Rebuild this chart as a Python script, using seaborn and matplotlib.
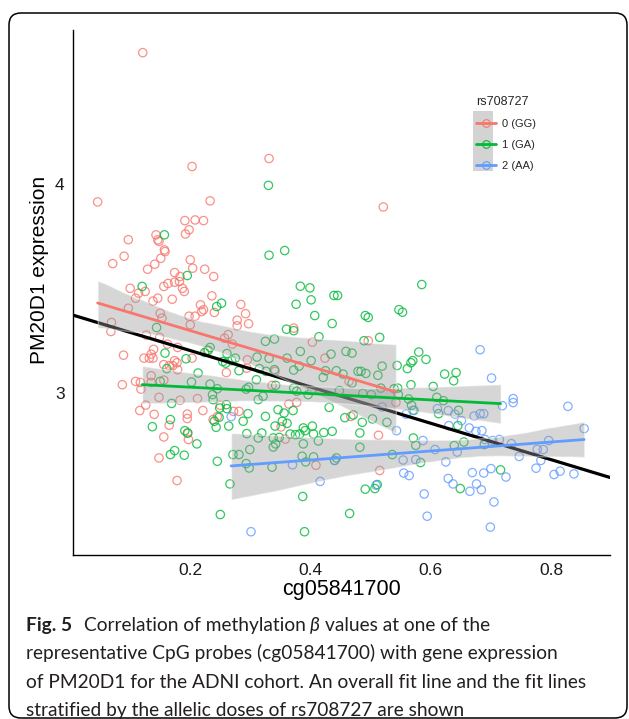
import matplotlib.pyplot as plt
from matplotlib import font_manager
from matplotlib.lines import Line2D
from matplotlib.patches import Rectangle, FancyBboxPatch
import pandas as pd
import seaborn as sns


# ---- data (cg05841700 beta, PM20D1 expression) ----

gg_beta = [0.121, 0.203, 0.046, 0.233, 0.191, 0.208, 0.222, 0.198, 0.192, 0.143,
           0.097, 0.146, 0.148, 0.157, 0.158, 0.090, 0.071, 0.151, 0.141, 0.200,
           0.129, 0.204, 0.224, 0.174, 0.239, 0.183, 0.163, 0.174, 0.182, 0.156,
           0.187, 0.190, 0.100, 0.114, 0.125, 0.236, 0.331, 0.521,
           0.146, 0.170, 0.138, 0.109, 0.217, 0.222, 0.219, 0.240, 0.284, 0.150,
           0.198, 0.208, 0.153, 0.200, 0.292, 0.278, 0.278, 0.297, 0.069, 0.068,
           0.127, 0.149, 0.263, 0.257, 0.270, 0.162, 0.179, 0.139, 0.135, 0.138,
           0.132, 0.228, 0.089, 0.123, 0.174, 0.178, 0.171, 0.179, 0.203, 0.156,
           0.165, 0.403, 0.424, 0.372, 0.087, 0.109, 0.117, 0.118, 0.135, 0.135,
           0.156, 0.336, 0.464,
           0.183, 0.212, 0.116, 0.140, 0.221, 0.195, 0.195, 0.165, 0.238, 0.245,
           0.250, 0.272, 0.281, 0.156, 0.197, 0.195, 0.148, 0.178, 0.126, 0.097,
           0.295, 0.294, 0.260, 0.148,
           0.496, 0.542, 0.467, 0.351, 0.358, 0.409, 0.513, 0.515, 0.341, 0.364,
           0.377]
gg_expr = [4.625, 4.082, 3.913, 3.918, 3.824, 3.827, 3.824, 3.780, 3.760, 3.756,
           3.733, 3.732, 3.725, 3.684, 3.676, 3.654, 3.619, 3.644, 3.616, 3.637,
           3.592, 3.597, 3.592, 3.576, 3.557, 3.557, 3.524, 3.530, 3.533, 3.510,
           3.501, 3.486, 3.501, 3.478, 3.486, 3.465, 4.120, 3.889,
           3.454, 3.449, 3.440, 3.454, 3.422, 3.399, 3.390, 3.386, 3.424, 3.382,
           3.368, 3.368, 3.359, 3.327, 3.380, 3.349, 3.322, 3.332, 3.338, 3.295,
           3.278, 3.267, 3.280, 3.263, 3.235, 3.235, 3.219, 3.210, 3.187, 3.168,
           3.168, 3.205, 3.182, 3.168, 3.156, 3.146, 3.132, 3.113, 3.168, 3.137,
           3.132, 3.244, 3.168, 3.311, 3.041, 3.057, 3.052, 3.020, 3.052, 3.084,
           3.063, 3.038, 3.057,
           2.967, 2.975, 2.918, 2.900, 2.918, 2.901, 2.880, 2.848, 2.875, 2.889,
           2.943, 2.914, 2.914, 2.792, 2.780, 2.810, 2.692, 2.584, 2.944, 3.406,
           3.160, 3.120, 3.099, 2.981,
           3.251, 2.957, 2.890, 2.840, 2.782, 2.657, 2.800, 2.632, 3.105, 2.949,
           2.957]

ga_beta = [0.157, 0.195, 0.120, 0.330, 0.331, 0.357, 0.383, 0.399, 0.585, 0.439,
           0.445, 0.401, 0.376, 0.244, 0.252, 0.407, 0.436, 0.360, 0.372, 0.144,
           0.414, 0.325, 0.340, 0.233, 0.230, 0.261, 0.275, 0.254, 0.269, 0.259,
           0.158, 0.193, 0.383, 0.434, 0.459, 0.469, 0.311, 0.331, 0.361, 0.161,
           0.213, 0.281, 0.315, 0.326, 0.340, 0.372, 0.401, 0.381, 0.425, 0.443,
           0.454, 0.479, 0.150, 0.202, 0.233, 0.245, 0.293, 0.310, 0.297, 0.342,
           0.372, 0.421, 0.448, 0.469, 0.169, 0.137, 0.167, 0.191, 0.196, 0.211,
           0.174, 0.167, 0.190, 0.245, 0.240, 0.243, 0.248, 0.249, 0.260, 0.261,
           0.264, 0.266, 0.250, 0.294, 0.288, 0.296, 0.293, 0.298, 0.281, 0.271,
           0.299, 0.237, 0.238, 0.224, 0.547, 0.553, 0.491, 0.496, 0.515, 0.489,
           0.580, 0.592, 0.570, 0.567, 0.561, 0.544, 0.519, 0.512, 0.484, 0.492,
           0.545, 0.539, 0.546, 0.517, 0.487, 0.501, 0.563, 0.568, 0.572, 0.457,
           0.471, 0.503, 0.527, 0.486, 0.436, 0.422, 0.413, 0.405, 0.403, 0.391,
           0.388, 0.382, 0.375, 0.366, 0.361, 0.353, 0.341, 0.348, 0.338, 0.342,
           0.338, 0.319, 0.313, 0.325, 0.388, 0.405, 0.392, 0.386, 0.443, 0.440,
           0.336, 0.387, 0.390, 0.465, 0.491, 0.507, 0.511, 0.482, 0.482, 0.536,
           0.571, 0.575, 0.583, 0.623, 0.642, 0.638, 0.604, 0.610, 0.621, 0.646,
           0.613, 0.645, 0.655, 0.639, 0.689, 0.716, 0.649, 0.402, 0.377, 0.396,
           0.431, 0.313, 0.321, 0.371, 0.356, 0.346, 0.567]
ga_expr = [3.756, 3.562, 3.510, 3.992, 3.659, 3.681, 3.511, 3.503, 3.519, 3.467,
           3.467, 3.446, 3.425, 3.414, 3.430, 3.371, 3.333, 3.306, 3.299, 3.314,
           3.270, 3.248, 3.259, 3.219, 3.205, 3.190, 3.168, 3.152, 3.156, 3.144,
           3.192, 3.165, 3.200, 3.187, 3.200, 3.192, 3.173, 3.167, 3.168, 3.118,
           3.097, 3.108, 3.118, 3.105, 3.113, 3.111, 3.156, 3.130, 3.108, 3.108,
           3.092, 3.105, 3.057, 3.054, 3.044, 3.022, 3.020, 3.065, 3.029, 3.038,
           3.025, 3.076, 3.013, 3.049, 2.952, 2.841, 2.875, 2.822, 2.811, 2.759,
           2.727, 2.708, 2.705, 2.676, 2.867, 2.838, 2.886, 2.930, 2.946, 2.927,
           2.844, 2.568, 2.422, 2.808, 2.867, 2.903, 2.665, 2.644, 2.708, 2.708,
           2.732, 2.994, 2.970, 3.195, 3.399, 3.387, 3.371, 3.362, 3.267, 3.251,
           3.197, 3.162, 3.156, 3.146, 3.118, 3.133, 3.130, 3.086, 3.105, 3.095,
           3.025, 3.022, 2.994, 3.025, 3.000, 2.994, 2.973, 2.943, 2.919, 2.884,
           2.897, 2.878, 2.862, 2.862, 2.819, 2.813, 2.773, 2.806, 2.844, 2.822,
           2.835, 2.806, 2.803, 2.806, 2.857, 2.867, 2.844, 2.790, 2.787, 2.759,
           2.744, 2.811, 2.787, 2.890, 2.759, 2.697, 2.673, 2.700, 2.692, 2.680,
           2.648, 2.508, 2.340, 2.427, 2.543, 2.546, 2.565, 2.811, 2.743, 2.708,
           2.787, 2.752, 2.670, 3.092, 3.099, 3.060, 3.033, 2.981, 2.965, 2.919,
           2.903, 2.846, 2.768, 2.751, 2.756, 2.635, 2.546, 3.014, 3.010, 2.994,
           2.933, 2.970, 2.986, 2.918, 2.906, 2.922, 3.041]

aa_beta = [0.268, 0.301, 0.570, 0.559, 0.519, 0.370, 0.440, 0.416, 0.509, 0.554,
           0.575, 0.555, 0.564, 0.587, 0.589, 0.594, 0.543, 0.682, 0.701, 0.737,
           0.737, 0.719, 0.828, 0.611, 0.629, 0.640, 0.682, 0.688, 0.672, 0.651,
           0.630, 0.664, 0.675, 0.685, 0.855, 0.690, 0.703, 0.714, 0.734, 0.796,
           0.777, 0.787, 0.607, 0.644, 0.747, 0.783, 0.625, 0.775, 0.805, 0.815,
           0.838, 0.669, 0.688, 0.700, 0.725, 0.629, 0.637, 0.676, 0.684, 0.665,
           0.705, 0.699]
aa_expr = [2.889, 2.340, 2.919, 2.901, 2.935, 2.659, 2.681, 2.580, 2.562, 2.682,
           2.684, 2.620, 2.608, 2.775, 2.520, 2.414, 2.822, 3.208, 3.073, 2.975,
           2.956, 2.941, 2.938, 2.927, 2.918, 2.901, 2.903, 2.903, 2.892, 2.870,
           2.846, 2.835, 2.819, 2.822, 2.832, 2.780, 2.775, 2.780, 2.760, 2.775,
           2.733, 2.732, 2.732, 2.720, 2.699, 2.680, 2.673, 2.643, 2.613, 2.629,
           2.616, 2.622, 2.620, 2.641, 2.601, 2.594, 2.568, 2.568, 2.540, 2.533,
           2.482, 2.362]

genotypes = ['0 (GG)', '1 (GA)', '2 (AA)']
geno_colors = ['#F8766D', '#00BA38', '#619CFF']
x_ticks = [0.2, 0.4, 0.6, 0.8]
y_ticks = [3, 4]
x_label = 'cg05841700'
y_label = 'PM20D1 expression'
legend_title = 'rs708727'

caption_lines = [
    [('Fig. 5', 'bold'), ('Correlation of methylation', 'normal'), ('\u03b2', 'italic'),
     ('values at one of the', 'normal')],
    [('representative CpG probes (cg05841700) with gene expression', 'normal')],
    [('of PM20D1 for the ADNI cohort. An overall fit line and the fit lines', 'normal')],
    [('stratified by the allelic doses of rs708727 are shown', 'normal')],
]

data = pd.concat([
    pd.DataFrame({'beta': gg_beta, 'expr': gg_expr, 'geno': genotypes[0]}),
    pd.DataFrame({'beta': ga_beta, 'expr': ga_expr, 'geno': genotypes[1]}),
    pd.DataFrame({'beta': aa_beta, 'expr': aa_expr, 'geno': genotypes[2]}),
], ignore_index=True)

# ---- figure ----

sns.set_style('white')
plt.rcParams['font.family'] = ['Liberation Sans', 'DejaVu Sans']

W, H = 629, 719
fig = plt.figure(figsize=(W / 100, H / 100), dpi=100)
ax = fig.add_axes([73 / W, 1 - 555 / H, (610 - 73) / W, (555 - 30) / H])
x_lim = (0.005, 0.898)
y_lim = (2.229, 4.733)
ax.set_xlim(*x_lim)
ax.set_ylim(*y_lim)

# overall fit over the full range, no band
sns.regplot(data=data, x='beta', y='expr', ax=ax, scatter=False, ci=None,
            truncate=False, color='black', line_kws={'lw': 2.3, 'zorder': 2})

# per genotype: points + lm fit with grey 95% band
for geno, col in zip(genotypes, geno_colors):
    sub = data[data['geno'] == geno]
    sns.regplot(data=sub, x='beta', y='expr', ax=ax, ci=95, n_boot=1000, seed=7,
                color=col, truncate=True,
                scatter_kws={'s': 36, 'facecolors': 'none', 'edgecolors': col,
                             'linewidths': 0.9, 'alpha': 0.8, 'zorder': 1},
                line_kws={'lw': 2.0, 'zorder': 3})
    band = ax.collections[-1]
    band.set_facecolor('#999999')
    band.set_alpha(0.4)
    band.set_zorder(2.5)

ax.set_xlim(*x_lim)
ax.set_ylim(*y_lim)
ax.set_xticks(x_ticks)
ax.set_yticks(y_ticks)
ax.set_xticklabels([f'{t:.1f}' for t in x_ticks])
ax.set_yticklabels([str(t) for t in y_ticks])
sns.despine(ax=ax)
for side in ['left', 'bottom']:
    ax.spines[side].set_color('black')
    ax.spines[side].set_linewidth(1.0)
ax.tick_params(direction='out', length=4, width=0.8, color='#333333',
               labelsize=12.5, labelcolor='#1a1a1a', pad=2)

ax.set_xlabel(x_label, fontsize=15.5, color='black')
ax.set_ylabel(y_label, fontsize=15, color='black')
ax.xaxis.set_label_coords(0.5, -34 / 525)
ax.xaxis.label.set_va('center')
ax.yaxis.set_label_coords(-33 / 537, (555 - 270) / 525)
ax.yaxis.label.set_va('center')

# legend with grey key background, as in ggplot
handles = [Line2D([0], [0], color=c, lw=2, marker='o', ms=5.5, mfc='none',
                  mec=c, mew=0.8) for c in geno_colors]
fig.patches.append(Rectangle((473 / W, 1 - 171 / H), 20 / W, 60 / H,
                             transform=fig.transFigure, facecolor='#d3d3d3',
                             edgecolor='none', zorder=0))
leg = fig.legend(handles, genotypes, title=legend_title, loc='upper left',
                 bbox_to_anchor=(466 / W, 1 - 86 / H), frameon=False,
                 fontsize=8, title_fontsize=9, handlelength=1.8,
                 handletextpad=0.55, labelspacing=1.0, alignment='left')

# rounded frame around the whole figure
fig.patches.append(FancyBboxPatch((0.09, 0.01), 6.18, 7.05,
                                  boxstyle='round,pad=0,rounding_size=0.12',
                                  transform=fig.dpi_scale_trans, fill=False,
                                  edgecolor='black', linewidth=1.1))

# caption: pieces laid out left to right on a shared baseline
names = {f.name for f in font_manager.fontManager.ttflist}
cap_font = 'Liberation Sans Narrow' if 'Liberation Sans Narrow' in names else 'Lato'

renderer = fig.canvas.get_renderer()
probe = fig.text(0, 0, caption_lines[1][0][0], family=cap_font, fontsize=16)
cap_size = 16 * 533 / probe.get_window_extent(renderer).width
probe.remove()
cap_px = cap_size * 100 / 72

baselines = [631, 659.5, 688, 716]
for line, yb in zip(caption_lines, baselines):
    x = 26
    for k, (txt, style) in enumerate(line):
        if k == 1:
            x += 0.6 * cap_px
        elif k > 1:
            x += 0.25 * cap_px
        t = fig.text(x / W, 1 - yb / H, txt, ha='left', va='baseline',
                     family=cap_font, fontsize=cap_size, color='#231f20',
                     weight='bold' if style == 'bold' else 'normal',
                     style='italic' if style == 'italic' else 'normal')
        x += t.get_window_extent(renderer).width

fig.savefig('out.png', dpi=100)
